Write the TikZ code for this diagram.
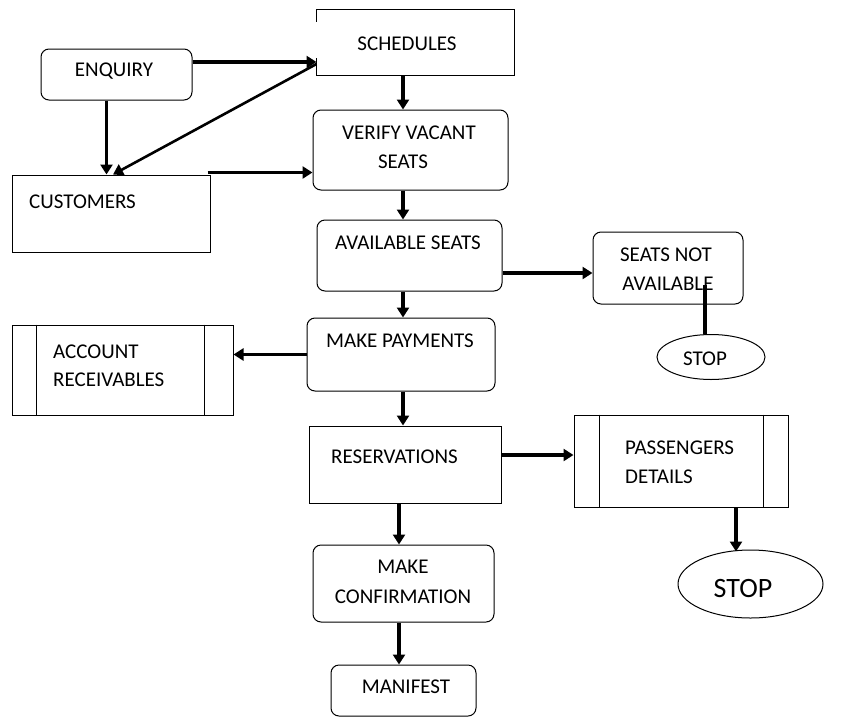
\documentclass[tikz,border=0pt]{standalone}
\usepackage{fontspec}
\setmainfont{Carlito}
\usetikzlibrary{arrows.meta,shapes.geometric,calc}
\begin{document}
\begin{tikzpicture}[x=1pt,y=-1pt,
  box/.style={draw, line width=1pt, inner sep=0pt},
  rbox/.style={box, rounded corners=8pt},
  oval/.style={draw, ellipse, line width=1pt, inner sep=0pt},
  thinline/.style={line width=1pt},
  conn/.style={line width=3.2pt},
  arr/.style={conn, -{Triangle[length=10pt,width=12pt]}},
  lbl/.style={font=\fontsize{21}{24}\selectfont, inner sep=0pt, anchor=base},
  lbll/.style={lbl, anchor=base west}]
\useasboundingbox (0,0) rectangle (843,718);
\fill[white] (0,0) rectangle (843,718);

% boxes
\node[rbox, minimum width=151pt, minimum height=51pt] (enq) at (116.5,74.5) {};
\node[box, draw=none, minimum width=197pt, minimum height=65pt] (sched) at (415.5,42.5) {};
\draw[thinline] ([yshift=-12pt]sched.north west) -- (sched.north west) -- (sched.north east)
  -- (sched.south east) -- (sched.south west) -- ([yshift=18pt]sched.south west);
\node[box, minimum width=198pt, minimum height=77pt] (cust) at (111,213.5) {};
\node[rbox, minimum width=195pt, minimum height=80pt] (verify) at (410.5,150) {};
\node[rbox, minimum width=185pt, minimum height=71pt] (avail) at (409.5,255.5) {};
\node[rbox, minimum width=150pt, minimum height=72pt] (notav) at (668,268) {};
\node[oval, minimum width=108pt, minimum height=45pt] (stopa) at (711,357) {};
\node[rbox, minimum width=188pt, minimum height=73pt] (pay) at (401,354.5) {};
\node[box, minimum width=221pt, minimum height=90pt] (acct) at (122.5,370) {};
\draw[thinline] ([xshift=25pt]acct.north west) -- ([xshift=25pt]acct.south west);
\draw[thinline] ([xshift=-29pt]acct.north east) -- ([xshift=-29pt]acct.south east);
\node[box, minimum width=192pt, minimum height=77pt] (res) at (405,464.5) {};
\node[box, minimum width=214pt, minimum height=92pt] (pass) at (681,461) {};
\draw[thinline] ([xshift=26pt]pass.north west) -- ([xshift=26pt]pass.south west);
\draw[thinline] ([xshift=-25pt]pass.north east) -- ([xshift=-25pt]pass.south east);
\node[oval, minimum width=145pt, minimum height=68pt] (stopb) at (750.5,584) {};
\node[rbox, minimum width=181pt, minimum height=77pt] (conf) at (403.5,583.5) {};
\node[rbox, minimum width=145pt, minimum height=51pt] (man) at (403.5,690.5) {};

% labels
\node[lbl] (enqT) at (114,76.5) {ENQUIRY};
\node[lbl] (schedT) at (407,50) {SCHEDULES};
\node[lbll] (custT) at (29,208) {CUSTOMERS};
\node[lbl] (verT1) at (409,139.5) {VERIFY VACANT};
\node[lbl] (verT2) at (403,168) {SEATS};
\node[lbl] (availT) at (408,249) {AVAILABLE SEATS};
\node[lbl] (notavT1) at (666,261) {SEATS NOT};
\node[lbl] (notavT2) at (668,290) {AVAILABLE};
\node[lbl] (stopaT) at (705,365) {STOP};
\node[lbl] (payT) at (400,347) {MAKE PAYMENTS};
\node[lbll] (acctT1) at (53,358) {ACCOUNT};
\node[lbll] (acctT2) at (53,386) {RECEIVABLES};
\node[lbll] (resT) at (331,463) {RESERVATIONS};
\node[lbll] (passT1) at (625,454) {PASSENGERS};
\node[lbll] (passT2) at (625,483) {DETAILS};
\node[lbl] (confT1) at (403,573) {MAKE};
\node[lbl] (confT2) at (403,603) {CONFIRMATION};
\node[lbl] (manT) at (406,693) {MANIFEST};
\node[lbl, font=\fontsize{28}{32}\selectfont] (stopbT) at (743,597) {STOP};

% connector helpers
\coordinate (colx) at (403,0);
\coordinate (colb) at (399,0);
\coordinate (nstart) at (705,285);
\coordinate (pcol) at (736,0);

% connectors
\draw[arr] ([yshift=12.5pt]enq.east) -- ([yshift=12.5pt]enq.east -| sched.west);
\draw[arr, line width=2.6pt] ([yshift=-21.5pt]sched.west) -- ([xshift=2pt]cust.north);
\draw[arr] ([xshift=-10pt]enq.south) -- ([xshift=-10pt]enq.south |- cust.north);
\draw[arr] ([xshift=-3pt,yshift=2pt]cust.north east) -- ([yshift=2pt]cust.north east -| verify.west);
\draw[arr] (sched.south -| colx) -- (verify.north -| colx);
\draw[arr] (verify.south -| colx) -- (avail.north -| colx);
\draw[arr] ([yshift=-17.5pt]avail.east) -- ([yshift=-17.5pt]avail.east -| notav.west);
\draw[conn] (nstart) -- (stopa.north -| nstart);
\draw[arr] (avail.south -| colx) -- (pay.north -| colx);
\draw[arr] (pay.west) -- (pay.west -| acct.east);
\draw[arr] (pay.south -| colx) -- (res.north -| colx);
\draw[arr] ([yshift=9.5pt]res.east) -- ([yshift=9.5pt]res.east -| pass.west);
\draw[arr] (res.south -| colb) -- (conf.north -| colb);
\draw[arr] (conf.south -| colb) -- (man.north -| colb);
\draw[arr] (pass.south -| pcol) -- ([yshift=-2pt]stopb.north -| pcol);
\end{tikzpicture}
\end{document}
